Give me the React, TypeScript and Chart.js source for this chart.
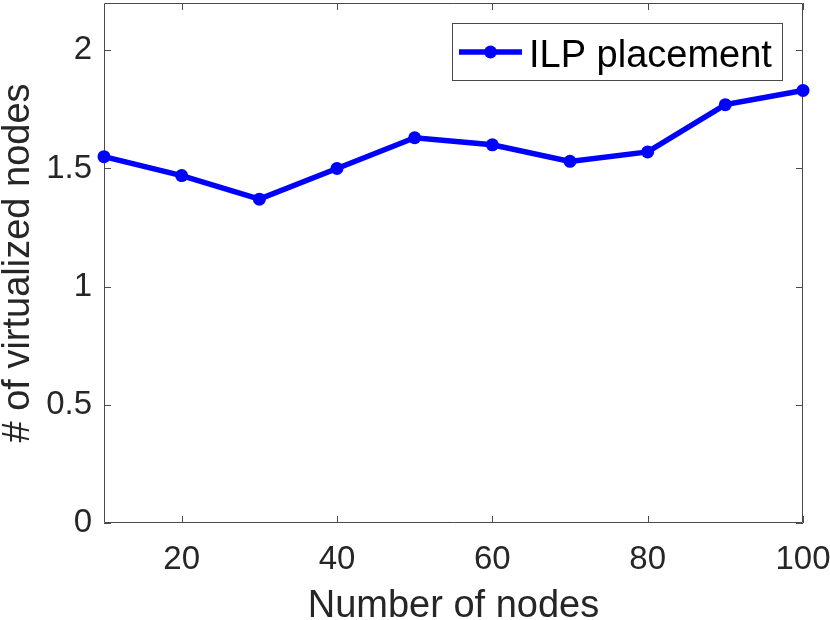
import React, { useEffect, useRef } from "react";
import { Chart, registerables } from "chart.js";

Chart.register(...registerables);

const nodeCounts = [10, 20, 30, 40, 50, 60, 70, 80, 90, 100];
const ilpValues = [1.55, 1.47, 1.37, 1.5, 1.63, 1.6, 1.53, 1.57, 1.77, 1.83];
const xTickValues = [20, 40, 60, 80, 100];
const yTickValues = [0, 0.5, 1, 1.5, 2];
const seriesLabel = "ILP placement";
const xTitle = "Number of nodes";
const yTitle = "# of virtualized nodes";

const FONT = "'Liberation Sans', Arial, Helvetica, sans-serif";
const TEXT = "#262626";
const AXIS = "#4a4a4a";
const BLUE = "#0000ff";

const framePlugin = {
  id: "matlabFrame",
  beforeDatasetsDraw(chart: any) {
    const { ctx, chartArea } = chart;
    const { left, right, top, bottom } = chartArea;
    const xs = chart.scales.x;
    const ys = chart.scales.y;
    const tl = 7;
    ctx.save();
    ctx.strokeStyle = AXIS;
    ctx.lineWidth = 1;
    ctx.beginPath();
    ctx.rect(left + 0.5, top + 0.5, right - left - 1, bottom - top - 1);
    ctx.stroke();
    ctx.beginPath();
    xs.ticks.forEach((t: any) => {
      const px = Math.round(xs.getPixelForValue(t.value)) + 0.5;
      ctx.moveTo(px, bottom);
      ctx.lineTo(px, bottom - tl);
      ctx.moveTo(px, top);
      ctx.lineTo(px, top + tl);
    });
    ys.ticks.forEach((t: any) => {
      const py = Math.round(ys.getPixelForValue(t.value)) + 0.5;
      ctx.moveTo(left, py);
      ctx.lineTo(left + tl, py);
      ctx.moveTo(right, py);
      ctx.lineTo(right - tl, py);
    });
    ctx.stroke();
    ctx.restore();
  },
  afterDatasetsDraw(chart: any) {
    const { ctx, chartArea } = chart;
    const ds = chart.data.datasets[0];
    const boxRight = chartArea.right - 21;
    const boxTop = chartArea.top + 20;
    const boxW = 330;
    const boxH = 57;
    const boxLeft = boxRight - boxW;
    ctx.save();
    ctx.fillStyle = "#ffffff";
    ctx.fillRect(boxLeft, boxTop, boxW, boxH);
    ctx.strokeStyle = AXIS;
    ctx.lineWidth = 1;
    ctx.strokeRect(Math.round(boxLeft) + 0.5, Math.round(boxTop) + 0.5, boxW, boxH);
    const ly = boxTop + 29;
    ctx.strokeStyle = ds.borderColor;
    ctx.lineWidth = ds.borderWidth;
    ctx.beginPath();
    ctx.moveTo(boxLeft + 7, ly);
    ctx.lineTo(boxLeft + 70, ly);
    ctx.stroke();
    ctx.fillStyle = ds.borderColor;
    ctx.beginPath();
    ctx.arc(boxLeft + 38.5, ly, ds.pointRadius, 0, Math.PI * 2);
    ctx.fill();
    ctx.fillStyle = "#000000";
    ctx.font = `38px ${FONT}`;
    ctx.textBaseline = "alphabetic";
    ctx.textAlign = "left";
    ctx.fillText(ds.label, boxLeft + 77, boxTop + 44);
    ctx.restore();
  },
};

export default function App() {
  const ref = useRef<HTMLCanvasElement | null>(null);
  useEffect(() => {
    if (!ref.current) return;
    const chart = new Chart(ref.current, {
      type: "line",
      data: {
        datasets: [
          {
            label: seriesLabel,
            data: nodeCounts.map((x, i) => ({ x, y: ilpValues[i] })),
            borderColor: BLUE,
            backgroundColor: BLUE,
            borderWidth: 5.5,
            pointRadius: 6.5,
            pointBackgroundColor: BLUE,
            pointBorderWidth: 0,
            tension: 0,
            clip: false as any,
          } as any,
        ],
      },
      options: {
        animation: false,
        responsive: false,
        layout: { autoPadding: false, padding: { top: 3, right: 27, left: 0, bottom: 0 } } as any,
        plugins: { legend: { display: false }, tooltip: { enabled: false } },
        scales: {
          x: {
            type: "linear",
            min: 10,
            max: 100,
            afterBuildTicks: (s: any) => {
              s.ticks = xTickValues.map((v) => ({ value: v }));
            },
            afterFit: (s: any) => {
              s.height = 97;
              s.paddingLeft = 0;
              s.paddingRight = 0;
            },
            grid: { display: false, drawTicks: false },
            border: { display: false },
            ticks: {
              color: TEXT,
              font: { family: FONT, size: 33 },
              padding: 17,
              maxRotation: 0,
              autoSkip: false,
              callback: (v: any) => String(v),
            },
            title: {
              display: true,
              text: xTitle,
              color: TEXT,
              font: { family: FONT, size: 38, lineHeight: 0.5 },
              padding: { top: 0, bottom: 4 },
            },
          },
          y: {
            type: "linear",
            min: 0,
            max: 2.2,
            afterBuildTicks: (s: any) => {
              s.ticks = yTickValues.map((v) => ({ value: v }));
            },
            afterFit: (s: any) => {
              s.width = 104;
              s.paddingTop = 0;
              s.paddingBottom = 0;
            },
            grid: { display: false, drawTicks: false },
            border: { display: false },
            ticks: {
              color: TEXT,
              font: { family: FONT, size: 33 },
              padding: 12,
              autoSkip: false,
              callback: (v: any) => String(v),
            },
            title: {
              display: true,
              text: yTitle,
              color: TEXT,
              font: { family: FONT, size: 38, lineHeight: 1 },
              padding: { top: 0, bottom: 0 },
            },
          },
        },
      },
      plugins: [framePlugin],
    });
    return () => chart.destroy();
  }, []);
  return (
    <div style={{ position: "fixed", left: 0, top: 0, width: 830, height: 620, background: "#fff" }}>
      <canvas ref={ref} width={830} height={620} style={{ display: "block" }} />
    </div>
  );
}
